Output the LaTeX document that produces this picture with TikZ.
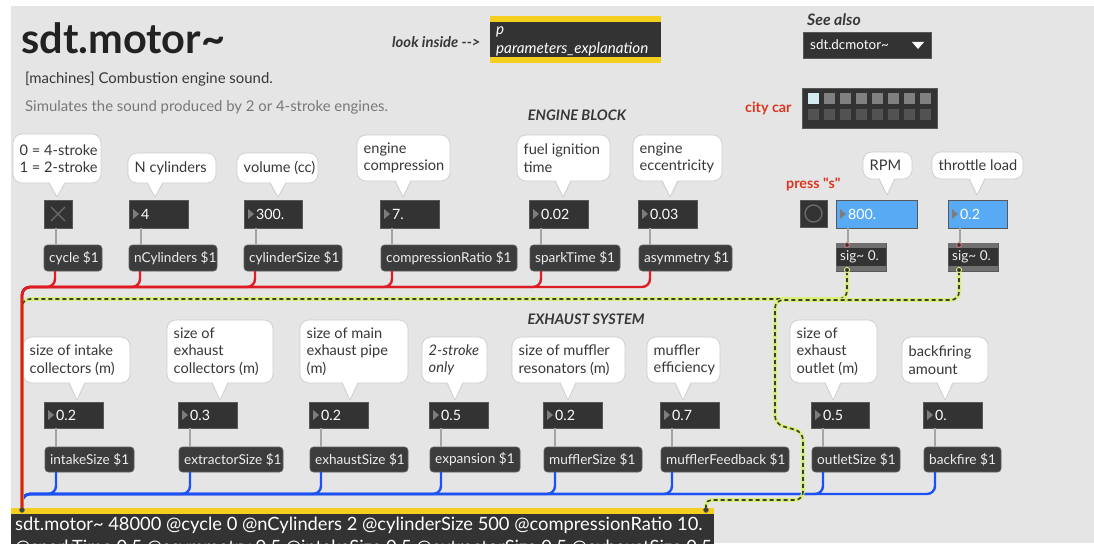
\documentclass[tikz,border=0pt]{standalone}
\usepackage{fontspec}
\setmainfont{Lato}
\newfontfamily\latoraw{Lato}[Ligatures=TeXOff]
\usetikzlibrary{fit}

\definecolor{bg}{RGB}{229,229,229}
\definecolor{boxdark}{RGB}{51,51,51}
\definecolor{boxedge}{RGB}{88,88,88}
\definecolor{msgfill}{RGB}{60,60,60}
\definecolor{msgedge}{RGB}{96,96,96}
\definecolor{msgtext}{RGB}{238,238,238}
\definecolor{bubedge}{RGB}{205,205,205}
\definecolor{bubtext}{RGB}{55,55,55}
\definecolor{desctext}{RGB}{120,120,120}
\definecolor{cabred}{RGB}{222,28,36}
\definecolor{cabblue}{RGB}{28,82,245}
\definecolor{cabgray}{RGB}{165,165,165}
\definecolor{siglight}{RGB}{214,240,120}
\definecolor{sigdark}{RGB}{60,62,50}
\definecolor{maxyellow}{RGB}{246,206,30}
\definecolor{numblue}{RGB}{88,170,245}
\definecolor{redlabel}{RGB}{222,52,30}
\definecolor{tricolor}{RGB}{125,125,125}
\definecolor{titletext}{RGB}{34,34,34}
\definecolor{bandgray}{RGB}{112,112,112}
\definecolor{inletred}{RGB}{232,120,120}
\definecolor{presettop}{RGB}{128,128,128}
\definecolor{presetbot}{RGB}{82,82,82}
\definecolor{presetsel}{RGB}{210,234,240}
\definecolor{glyphgray}{RGB}{108,108,108}
\definecolor{inletedge}{RGB}{90,90,90}
\definecolor{inletfill}{RGB}{60,60,60}

\newcommand\fsz[2]{\fontsize{#1}{#2}\selectfont}

% comment bubble: name, x1, y1, x2, y2, tip x, tip y, text
\newcommand\Bubble[8]{%
  \node[bubblebox, fit={(#2,#3) (#4,#5)}] (#1) {};
  \fill[white] (#6-7.5,#5-1) -- (#6,#7) -- (#6+7.5,#5-1) -- cycle;
  \draw[bubedge, line width=0.7pt, line join=round] (#6-8,#5) -- (#6,#7) -- (#6+8,#5);
  \node[btxt] (#1-t) at (#2+6.5, {(#3+#5)/2}) {#8};
}
% number box: name, x1, y1, x2, y2, text, fill colour
\newcommand\NumBox[7]{%
  \node[numbox, fill=#7, fit={(#2,#3) (#4,#5)}] (#1) {};
  \fill[tricolor] ([xshift=4pt,yshift=5pt]#1.west) -- ([xshift=4pt,yshift=-5pt]#1.west)
     -- ([xshift=10pt]#1.west) -- cycle;
  \node[ntxt] (#1-t) at ([xshift=12pt]#1.west) {#6};
  \path ([xshift=12pt]#1.south west) coordinate (#1-o);
}
% message box: name, x1, y1, x2, y2, text
\newcommand\MsgBox[6]{%
  \node[msgbox, fit={(#2,#3) (#4,#5)}] (#1) {};
  \node[mtxt] (#1-t) at ([xshift=5pt]#1.west) {#6};
  \path ([xshift=11pt]#1.south west) coordinate (#1-o);
}
% sig~ object box: name, x1, y1, x2, y2
\newcommand\SigBox[5]{%
  \node[numbox, fit={(#2,#3) (#4,#5)}] (#1) {};
  \fill[bandgray] (#1.north west) rectangle ([yshift=-5pt]#1.north east);
  \fill[bandgray] ([yshift=5pt]#1.south west) rectangle (#1.south east);
  \node[mtxt] (#1-t) at ([xshift=4pt]#1.west) {sig\textasciitilde{} 0.};
  \draw[inletred, line width=0.8pt, fill=boxdark] ([xshift=11pt,yshift=-2pt]#1.north west) circle (2.4pt);
  \path ([xshift=11pt]#1.south west) coordinate (#1-o);
}

\begin{document}
\begin{tikzpicture}[x=1pt,y=-1pt,
  bubblebox/.style={inner sep=0pt, outer sep=0pt, fill=white, draw=bubedge, line width=0.7pt, rounded corners=9pt},
  numbox/.style={inner sep=0pt, outer sep=0pt, fill=boxdark, draw=boxedge, line width=0.5pt},
  msgbox/.style={inner sep=0pt, outer sep=0pt, fill=msgfill, draw=msgedge, line width=0.6pt, rounded corners=3.5pt},
  btxt/.style={anchor=west, inner sep=0pt, text=bubtext, align=left, font=\fsz{14.6}{17.6}},
  ntxt/.style={anchor=west, inner sep=0pt, text=white, font=\fsz{14.2}{16}},
  mtxt/.style={anchor=west, inner sep=0pt, text=msgtext, font=\fsz{13.6}{16}},
  plain/.style={inner sep=0pt, text=bubtext},
  graycable/.style={draw=cabgray, line width=2.4pt},
  redcable/.style={draw=cabred, line width=2.4pt, rounded corners=8pt},
  bluecable/.style={draw=cabblue, line width=2.4pt, rounded corners=8pt},
  sigcable/.style={draw=sigdark, line width=1.6pt, dash pattern=on 4pt off 3pt, rounded corners=8pt,
    preaction={draw=siglight, line width=3.6pt, solid}},
]
\useasboundingbox (0,0) rectangle (1094,543);
\clip (0,0) rectangle (1094,543);
\fill[white] (0,0) rectangle (1094,543);
\fill[bg] (11,6) rectangle (1094,543);

% ---- header -------------------------------------------------------
\node[inner sep=0pt, anchor=base west, text=titletext, font=\bfseries\fsz{41.5}{44}] (title) at (21,53) {sdt.motor\textasciitilde};
\node[inner sep=0pt, anchor=base west, text=bubtext, font=\fsz{14.9}{17}] (tagline) at (25,83) {[machines] Combustion engine sound.};
\node[inner sep=0pt, anchor=base west, text=desctext, font=\fsz{14.9}{17}] (desc) at (25,111) {Simulates the sound produced by 2 or 4-stroke engines.};

\node[plain, anchor=west, font=\latoraw\bfseries\itshape\fsz{14.8}{16}] (look) at (392,42) {look inside -->};
\node[numbox, draw=none, fit={(490,16) (661,63)}] (patcher) {};
\fill[maxyellow] (patcher.north west) rectangle ([yshift=-6pt]patcher.north east);
\fill[maxyellow] ([yshift=6pt]patcher.south west) rectangle (patcher.south east);
\node[inner sep=0pt, anchor=west, text=white, font=\itshape\fsz{15.2}{16}] (patcher-a) at (496,32) {p};
\node[inner sep=0pt, anchor=west, text=white, font=\itshape\fsz{15.2}{16}] (patcher-b) at (496,49) {parameters\_explanation};

\node[plain, anchor=west, font=\bfseries\itshape\fsz{15.8}{17}] (seealso) at (807,20) {See also};
\node[numbox, fit={(803,32) (931,58)}] (dd) {};
\node[inner sep=0pt, anchor=west, text=white, font=\fsz{13.4}{16}] (dd-t) at (810,45) {sdt.dcmotor\textasciitilde};
\fill[white] ([xshift=-19pt,yshift=3pt]dd.east) -- ([xshift=-7pt,yshift=3pt]dd.east) -- ([xshift=-13pt,yshift=-4pt]dd.east) -- cycle;

\node[plain, anchor=west, text=redlabel, font=\bfseries\fsz{14.3}{16}] (citycar) at (745,108) {city car};
\node[numbox, fit={(802,88) (937,128)}] (preset) {};
\foreach \i in {0,...,7} {
  \fill[presettop] ({808+16*\i},93) rectangle ++(11,11);
  \fill[presetbot] ({808+16*\i},109) rectangle ++(11,11);
}
\fill[presetsel] (808,93) rectangle ++(11,11);

\node[plain, font=\bfseries\itshape\fsz{14.5}{16}] (engine) at (577,115) {ENGINE BLOCK};
\node[plain, font=\bfseries\itshape\fsz{14.5}{16}] (exhaust) at (586,319) {EXHAUST SYSTEM};
\node[plain, anchor=west, text=redlabel, font=\latoraw\bfseries\fsz{14.3}{16}] (press) at (786,185) {press "s"};

% ---- engine block row ----------------------------------------------
\Bubble{b1}{13}{134}{101}{183}{57}{197}{0 = 4-stroke\\1 = 2-stroke}
\Bubble{b2}{128}{153}{216}{183}{155}{197}{N cylinders}
\Bubble{b3}{237}{153}{318}{183}{278}{197}{volume (cc)}
\Bubble{b4}{357}{135}{450}{181}{403}{197}{engine\\compression}
\Bubble{b5}{517}{135}{610}{181}{563}{197}{fuel ignition\\time}
\Bubble{b6}{633}{135}{722}{181}{670}{197}{engine\\eccentricity}
\Bubble{b7}{863}{152}{912}{179}{887}{195}{RPM}
\Bubble{b8}{932}{152}{1023}{179}{977}{195}{throttle load}

\node[numbox, fit={(44,200) (72,228)}] (tog) {};
\draw[glyphgray, line width=1.4pt]
  ([shift={(-7pt,-7pt)}]tog.center) -- ([shift={(7pt,7pt)}]tog.center)
  ([shift={(-7pt,7pt)}]tog.center) -- ([shift={(7pt,-7pt)}]tog.center);
\path ([xshift=12pt]tog.south west) coordinate (tog-o);
\NumBox{n2}{129}{200}{188}{228}{4}{boxdark}
\NumBox{n3}{244}{200}{302}{228}{300.}{boxdark}
\NumBox{n4}{380}{200}{439}{228}{7.}{boxdark}
\NumBox{n5}{529}{200}{588}{228}{0.02}{boxdark}
\NumBox{n6}{638}{200}{697}{228}{0.03}{boxdark}
\node[numbox, fit={(800,200) (827,227)}] (btn) {};
\draw[glyphgray, line width=1.3pt] (btn.center) circle (8.5pt);
\NumBox{n7}{836}{200}{917}{228}{800.}{numblue}
\NumBox{n8}{948}{200}{1007}{228}{0.2}{numblue}

\MsgBox{m1}{44}{245}{102}{271}{cycle \$1}
\MsgBox{m2}{129}{245}{217}{271}{nCylinders \$1}
\MsgBox{m3}{244}{245}{342}{271}{cylinderSize \$1}
\MsgBox{m4}{381}{245}{517}{271}{compressionRatio \$1}
\MsgBox{m5}{530}{245}{620}{271}{sparkTime \$1}
\MsgBox{m6}{639}{245}{732}{271}{asymmetry \$1}
\SigBox{s1}{836}{243}{886}{271}
\SigBox{s2}{948}{243}{998}{271}

% ---- exhaust row ---------------------------------------------------
\Bubble{c1}{23}{337}{130}{383}{77}{400}{size of intake\\collectors (m)}
\Bubble{c2}{167}{320}{273}{383}{220}{400}{size of\\exhaust\\collectors (m)}
\Bubble{c3}{300}{320}{408}{383}{350}{400}{size of main\\exhaust pipe\\(m)}
\Bubble{c4}{422}{337}{487}{383}{455}{400}{\itshape 2-stroke\\\itshape only}
\Bubble{c5}{512}{337}{625}{383}{568}{400}{size of muffler\\resonators (m)}
\Bubble{c6}{647}{337}{720}{383}{683}{400}{muffler\\efficiency}
\Bubble{c7}{790}{320}{877}{383}{833}{400}{size of\\exhaust\\outlet (m)}
\Bubble{c8}{902}{337}{988}{383}{945}{400}{backfiring\\amount}

\NumBox{p1}{44}{402}{103}{428}{0.2}{boxdark}
\NumBox{p2}{178}{402}{237}{428}{0.3}{boxdark}
\NumBox{p3}{309}{402}{368}{428}{0.2}{boxdark}
\NumBox{p4}{429}{402}{488}{428}{0.5}{boxdark}
\NumBox{p5}{543}{402}{602}{428}{0.2}{boxdark}
\NumBox{p6}{660}{402}{719}{428}{0.7}{boxdark}
\NumBox{p7}{811}{402}{869}{428}{0.5}{boxdark}
\NumBox{p8}{923}{402}{982}{428}{0.}{boxdark}

\MsgBox{q1}{45}{447}{134}{472}{intakeSize \$1}
\MsgBox{q2}{179}{447}{283}{472}{extractorSize \$1}
\MsgBox{q3}{310}{447}{408}{472}{exhaustSize \$1}
\MsgBox{q4}{430}{447}{520}{472}{expansion \$1}
\MsgBox{q5}{544}{447}{642}{472}{mufflerSize \$1}
\MsgBox{q6}{661}{447}{789}{472}{mufflerFeedback \$1}
\MsgBox{q7}{812}{447}{900}{472}{outletSize \$1}
\MsgBox{q8}{924}{447}{1001}{472}{backfire \$1}

% ---- sdt.motor~ object -----------------------------------------------
\node[numbox, draw=none, fit={(11,508) (714,570)}] (motor) {};
\fill[maxyellow] (motor.north west) rectangle ([yshift=-6pt]motor.north east);
\node[inner sep=0pt, anchor=north west, text=white, align=left, font=\fsz{18.3}{22.5}] (motor-t) at (15,517)
  {sdt.motor\textasciitilde{} 48000 @cycle 0 @nCylinders 2 @cylinderSize 500 @compressionRatio 10.\\
   @sparkTime 0.5 @asymmetry 0.5 @intakeSize 0.5 @extractorSize 0.5 @exhaustSize 0.5};
\path ([xshift=11pt,yshift=-2pt]motor.north west) coordinate (in1);
\path ([xshift=-8pt,yshift=-2pt]motor.north east) coordinate (in2);

% ---- patch cords -------------------------------------------------------
\draw[graycable] (tog-o) -- (tog-o |- m1.north);
\foreach \n/\m in {n2/m2,n3/m3,n4/m4,n5/m5,n6/m6,n7/s1,n8/s2,
                   p1/q1,p2/q2,p3/q3,p4/q4,p5/q5,p6/q6,p7/q7,p8/q8}
  \draw[graycable] (\n-o) -- (\n-o |- \m.north);

\foreach \m in {q1,q2,q3,q4,q5,q6,q7,q8}
  \draw[bluecable] (\m-o) -- ++(0,22) -| (in1);

\draw[sigcable] (s1-o) -- ++(0,28) -| (in1);
\draw[sigcable] (s2-o) -- ++(0,29) -- (775,300) -- (775,424) -- (803,432) -- (803,500)
  [rounded corners=5pt] -- (in2 |- 0,500) -- (in2);

\foreach \m in {m1,m2,m3,m4,m5,m6}
  \draw[redcable] (\m-o) -- ++(0,16) -| (in1);

\foreach \s in {s1,s2}
  \draw[siglight, line width=0.9pt, fill=boxdark] ([yshift=1pt]\s-o) circle (2.6pt);
\foreach \c in {in1,in2}
  \draw[inletedge, line width=0.6pt, fill=inletfill] (\c) circle (2.4pt);
\end{tikzpicture}
\end{document}
